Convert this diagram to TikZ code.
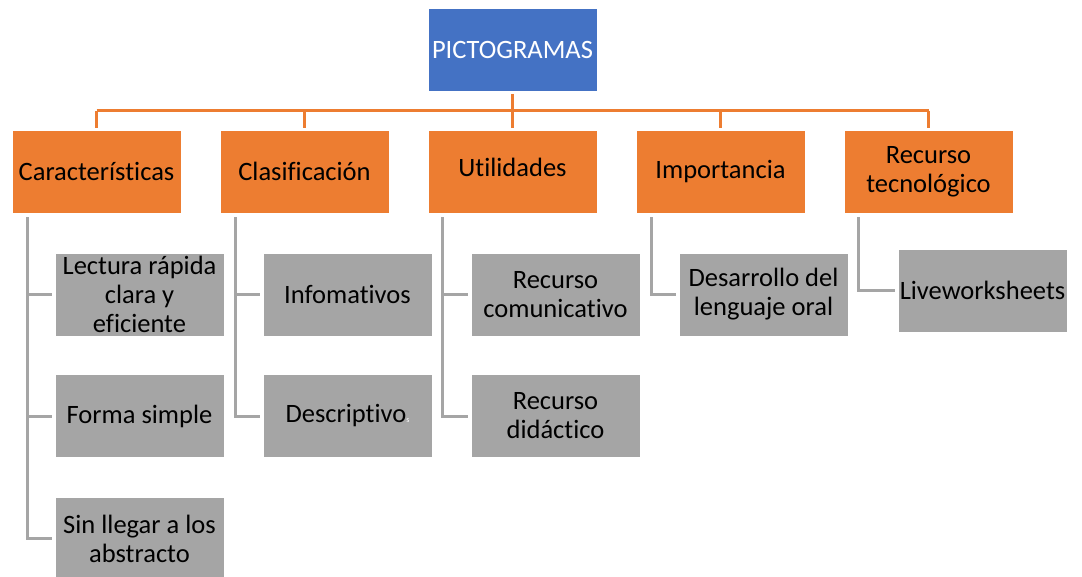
\documentclass[tikz,border=0pt]{standalone}
\usepackage{fontspec}
\setmainfont[Ligatures=NoCommon]{Carlito}
\definecolor{oblue}{HTML}{4472C4}
\definecolor{oorange}{HTML}{ED7D31}
\definecolor{ogray}{HTML}{A5A5A5}
\begin{document}
\begin{tikzpicture}[x=1pt,y=-1pt,
  box/.style={minimum width=169pt,minimum height=83pt,inner sep=1pt,align=center,
    font=\fontsize{26.5}{29}\selectfont,draw=white,line width=0.6pt},
  topbox/.style={box,fill=oblue,text=white},
  catbox/.style={box,fill=oorange,text=black},
  itembox/.style={box,fill=ogray,text=black},
  oline/.style={draw=oorange,line width=3pt},
  gline/.style={draw=ogray,line width=3pt,shorten <=4pt,shorten >=3pt}]
\useasboundingbox (0,0) rectangle (1082,577);
% top
\node[topbox] (top) at (512.5,50) {PICTOGRAMAS};
% categories
\node[catbox] (c1) at (96.5,171.5) {Características};
\node[catbox] (c2) at (304.5,171.5) {Clasificación};
\node[catbox] (c3) at (512.5,171.5) {\raisebox{8pt}{Utilidades}};
\node[catbox] (c4) at (720.5,171.5) {Importancia};
\node[catbox] (c5) at (928.5,171.5) {Recurso\\tecnológico};
% items
\node[itembox] (g11) at (139.5,294.5) {Lectura rápida\\clara y\\eficiente};
\node[itembox] (g12) at (139.5,416) {Forma simple};
\node[itembox] (g13) at (139.5,538.5) {Sin llegar a los\\abstracto};
\node[itembox] (g21) at (347.5,294.5) {Infomativos};
\node[itembox] (g22) at (347.5,416) {Descriptivo{\fontsize{8}{8}\selectfont\color{white}s}};
\node[itembox] (g31) at (555.5,294.5) {Recurso\\comunicativo};
\node[itembox] (g32) at (555.5,416) {Recurso\\didáctico};
\node[itembox] (g41) at (763.5,294.5) {Desarrollo del\\lenguaje oral};
\node[itembox] (g51) at (982.5,290.5) {Liveworksheets};
% orange connectors
\coordinate (bus) at (512.5,111);
\draw[oline,shorten <=2pt] (top.south) -- (bus);
\draw[oline,shorten >=2pt] (c1.north |- bus) -- (c1.north);
\draw[oline] (c1.north |- bus) -- (c5.north |- bus);
\draw[oline,shorten >=2pt] (c2.north |- bus) -- (c2.north);
\draw[oline,shorten >=2pt] (c3.north |- bus) -- (c3.north);
\draw[oline,shorten >=2pt] (c4.north |- bus) -- (c4.north);
\draw[oline,shorten >=2pt] (c5.north |- bus) -- (c5.north);
% gray connectors
\draw[gline] ([xshift=16pt]c1.south west) |- (g11.west);
\draw[gline] ([xshift=16pt]c1.south west) |- (g12.west);
\draw[gline] ([xshift=16pt]c1.south west) |- (g13.west);
\draw[gline] ([xshift=16pt]c2.south west) |- (g21.west);
\draw[gline] ([xshift=16pt]c2.south west) |- (g22.west);
\draw[gline] ([xshift=15pt]c3.south west) |- (g31.west);
\draw[gline] ([xshift=15pt]c3.south west) |- (g32.west);
\draw[gline] ([xshift=16pt]c4.south west) |- (g41.west);
\draw[gline] ([xshift=15pt]c5.south west) |- (g51.west);
\end{tikzpicture}
\end{document}
